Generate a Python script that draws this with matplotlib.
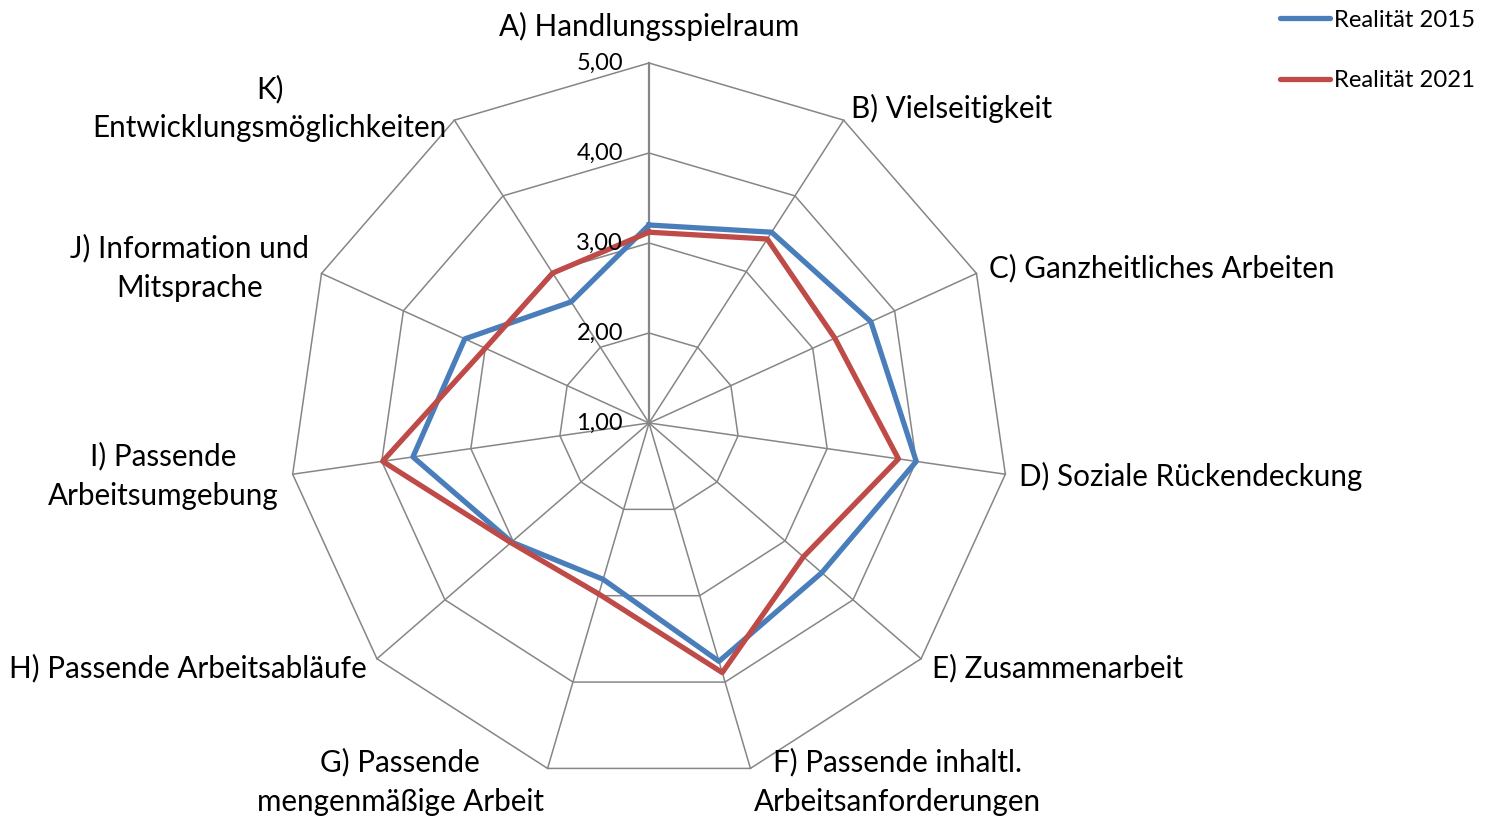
import numpy as np
import matplotlib
matplotlib.use("Agg")
import matplotlib.pyplot as plt
from matplotlib.lines import Line2D


# Data

categories = [
    "A) Handlungsspielraum",
    "B) Vielseitigkeit",
    "C) Ganzheitliches Arbeiten",
    "D) Soziale Rückendeckung",
    "E) Zusammenarbeit",
    "F) Passende inhaltl.\nArbeitsanforderungen",
    "G) Passende\nmengenmäßige Arbeit",
    "H) Passende Arbeitsabläufe",
    "I) Passende\nArbeitsumgebung",
    "J) Information und\nMitsprache",
    "K)\nEntwicklungsmöglichkeiten",
]

realitaet_2015 = [3.20, 3.52, 3.71, 4.00, 3.54, 3.76, 2.81, 3.02, 3.65, 3.25, 2.60]
realitaet_2021 = [3.12, 3.43, 3.27, 3.80, 3.27, 3.89, 2.98, 3.03, 3.99, 3.00, 2.98]

series_names = ["Realität 2015", "Realität 2021"]
tick_values = [1, 2, 3, 4, 5]
tick_labels = ["1,00", "2,00", "3,00", "4,00", "5,00"]


# Style

FONT = "Lato"
BLUE = "#4A7EBB"
RED = "#BE4B48"
GRID = "#868686"


plt.rcParams["font.family"] = [FONT, "DejaVu Sans"]

fig = plt.figure(figsize=(14.85, 8.19), dpi=100)

ax = fig.add_axes(
    [289 / 1485, 36 / 819, 720 / 1485, 720 / 819],
    projection="polar"
)

ax.set_theta_zero_location("N")
ax.set_theta_direction(-1)
ax.set_ylim(1, 5)
ax.grid(False)
ax.set_xticks([])
ax.set_yticks([])
ax.spines["polar"].set_visible(False)
ax.patch.set_alpha(0)

n = len(categories)
angles = np.linspace(0, 2 * np.pi, n, endpoint=False)
closed = np.append(angles, angles[0])


# Polygon grid

for r in tick_values[1:]:
    ax.plot(closed, [r] * (n + 1), color=GRID, lw=1.1, clip_on=False, zorder=1)

for i, a in enumerate(angles):
    ax.plot([a, a], [1, 5], color=GRID, lw=1.6 if i == 0 else 1.1,
            clip_on=False, zorder=1)


# Series

for values, color, name in zip(
        [realitaet_2015, realitaet_2021],
        [BLUE, RED],
        series_names
):
    ax.plot(closed, values + values[:1], color=color, lw=3.8,
            solid_joinstyle="round", label=name, zorder=3)


# Value axis labels

for v, lab in zip(tick_values, tick_labels):
    ax.annotate(lab, xy=(0, v), xytext=(-26, 0), textcoords="offset pixels",
                ha="right", va="center", fontsize=17, zorder=4)


# Category labels

for a, lab in zip(angles, categories):
    s, c = np.sin(a), np.cos(a)
    if abs(s) < 0.1:
        ha = "center"
    elif s > 0:
        ha = "left"
    else:
        ha = "right"
    if c > 0.99:
        va = "bottom"
        off = (0, 22)
    else:
        va = "center"
        off = (14 * s, 14 * c)
    ax.annotate(lab, xy=(a, 5), xytext=off, textcoords="offset pixels",
                ha=ha, va=va, multialignment="center", fontsize=21.3,
                linespacing=1.5, annotation_clip=False)


# Legend

handles = [
    Line2D([], [], color=BLUE, lw=3.8, solid_capstyle="round"),
    Line2D([], [], color=RED, lw=3.8, solid_capstyle="round"),
]

fig.legend(
    handles,
    series_names,
    loc="upper right",
    bbox_to_anchor=(1.0, 1.0),
    frameon=False,
    fontsize=17.2,
    handlelength=2.1,
    handletextpad=0.2,
    labelspacing=1.66,
    borderaxespad=0.0,
)

fig.savefig("out.png", dpi=100)
plt.close(fig)
